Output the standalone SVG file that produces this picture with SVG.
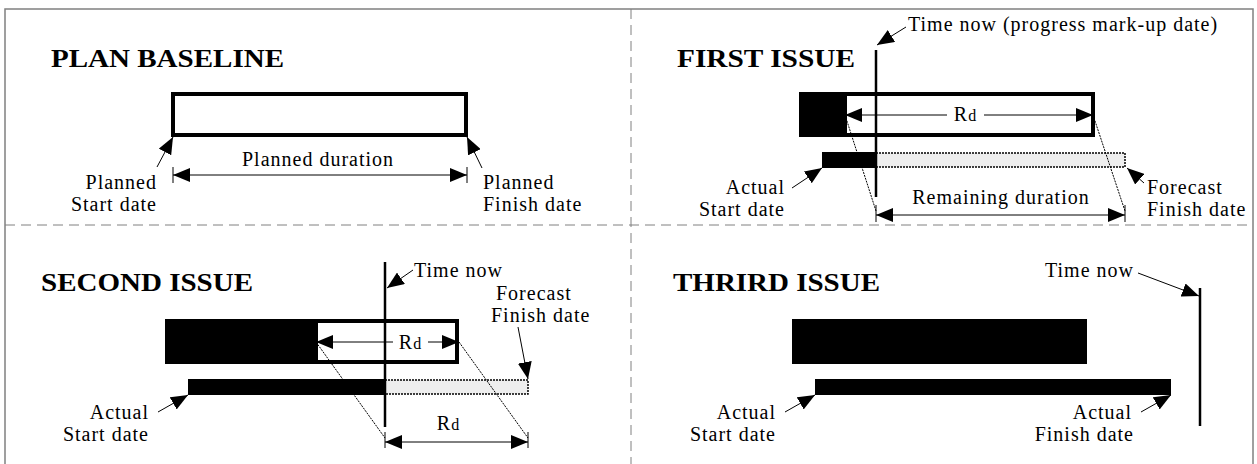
<svg xmlns="http://www.w3.org/2000/svg" width="1257" height="464" viewBox="0 0 1257 464">
  <style>
    .title { font-family: "Liberation Serif", "Times New Roman", serif; font-weight: bold; font-size: 26px; fill: #000; }
    .lbl { font-family: "Liberation Serif", "Times New Roman", serif; font-size: 20px; letter-spacing: 1px; fill: #000; }
    .sub { font-size: 16px; letter-spacing: 0; }
    .frame { fill: none; stroke: #808080; stroke-width: 1.5; }
    .divider { fill: none; stroke: #808080; stroke-width: 1; stroke-dasharray: 10 6; }
    .plan { fill: #fff; stroke: #000; stroke-width: 4; }
    .solid { fill: #000; stroke: none; }
    .forecast { fill: #eeeeee; stroke: #000; stroke-width: 1.5; stroke-dasharray: 2 1; }
    .now { stroke: #000; stroke-width: 2.5; fill: none; }
    .dim { stroke: #000; stroke-width: 1; fill: none; marker-start: url(#ahs); marker-end: url(#ah); }
    .half-l { stroke: #000; stroke-width: 1; fill: none; marker-start: url(#ahs); }
    .half-r { stroke: #000; stroke-width: 1; fill: none; marker-end: url(#ah); }
    .lead { stroke: #000; stroke-width: 1; fill: none; marker-end: url(#ah); }
    .tick { stroke: #000; stroke-width: 1; fill: none; }
    .proj { stroke: #000; stroke-width: 1; fill: none; stroke-dasharray: 2 1; }
  </style>
  <defs>
    <marker id="ah" markerUnits="userSpaceOnUse" markerWidth="18" markerHeight="14" refX="17" refY="7" orient="auto">
      <path d="M0,0 L17,7 L0,14 z" fill="#000"/>
    </marker>
    <marker id="ahs" markerUnits="userSpaceOnUse" markerWidth="18" markerHeight="14" refX="17" refY="7" orient="auto-start-reverse">
      <path d="M0,0 L17,7 L0,14 z" fill="#000"/>
    </marker>
  </defs>

  <rect width="1257" height="464" fill="#fff"/>

  <!-- frame and quadrant dividers -->
  <g id="frame">
    <rect class="frame" x="5" y="9" width="1248" height="470"/>
    <line class="divider" x1="5" y1="225" x2="1253" y2="225"/>
    <line class="divider" x1="631" y1="9" x2="631" y2="464"/>
  </g>

  <!-- Plan baseline -->
  <g id="plan-baseline">
    <text class="title" x="51" y="67" textLength="233" lengthAdjust="spacingAndGlyphs">PLAN BASELINE</text>
    <rect class="plan" x="173" y="94" width="293" height="41"/>
    <text class="lbl" x="318" y="166" text-anchor="middle">Planned duration</text>
    <text class="lbl" x="157" y="189" text-anchor="end">Planned</text>
    <text class="lbl" x="157" y="211" text-anchor="end">Start date</text>
    <text class="lbl" x="483" y="189">Planned</text>
    <text class="lbl" x="483" y="211">Finish date</text>
  </g>

  <!-- First issue -->
  <g id="first-issue">
    <text class="title" x="677" y="67" textLength="178" lengthAdjust="spacingAndGlyphs">FIRST ISSUE</text>
    <rect class="solid" x="799" y="92" width="47" height="45"/>
    <rect class="plan" x="845" y="94" width="248" height="41"/>
    <rect class="forecast" x="876" y="153" width="249" height="14"/>
    <rect class="solid" x="822" y="152" width="54" height="16"/>
    <line class="now" x1="876" y1="50" x2="876" y2="197"/>
    <text class="lbl" x="965" y="121" text-anchor="middle">R<tspan class="sub">d</tspan></text>
    <text class="lbl" x="908" y="31">Time now (progress mark-up date)</text>
    <text class="lbl" x="1001" y="204" text-anchor="middle">Remaining duration</text>
    <text class="lbl" x="785" y="194" text-anchor="end">Actual</text>
    <text class="lbl" x="785" y="216" text-anchor="end">Start date</text>
    <text class="lbl" x="1147" y="194">Forecast</text>
    <text class="lbl" x="1147" y="216">Finish date</text>
  </g>

  <!-- Second issue -->
  <g id="second-issue">
    <text class="title" x="41" y="291" textLength="212" lengthAdjust="spacingAndGlyphs">SECOND ISSUE</text>
    <rect class="solid" x="165" y="319" width="152" height="45"/>
    <rect class="plan" x="316" y="321" width="141" height="41"/>
    <rect class="forecast" x="385" y="380" width="143" height="14"/>
    <rect class="solid" x="188" y="379" width="197" height="16"/>
    <line class="now" x1="385" y1="262" x2="385" y2="427"/>
    <text class="lbl" x="410" y="349" text-anchor="middle">R<tspan class="sub">d</tspan></text>
    <text class="lbl" x="448" y="430" text-anchor="middle">R<tspan class="sub">d</tspan></text>
    <text class="lbl" x="414" y="277">Time now</text>
    <text class="lbl" x="496" y="300">Forecast</text>
    <text class="lbl" x="491" y="322">Finish date</text>
    <text class="lbl" x="149" y="419" text-anchor="end">Actual</text>
    <text class="lbl" x="149" y="441" text-anchor="end">Start date</text>
  </g>

  <!-- Third issue -->
  <g id="third-issue">
    <text class="title" x="673" y="291" textLength="207" lengthAdjust="spacingAndGlyphs">THRIRD ISSUE</text>
    <rect class="solid" x="792" y="319" width="295" height="45"/>
    <rect class="solid" x="815" y="379" width="356" height="16"/>
    <line class="now" x1="1200" y1="288" x2="1200" y2="426"/>
    <text class="lbl" x="1045" y="277">Time now</text>
    <text class="lbl" x="776" y="419" text-anchor="end">Actual</text>
    <text class="lbl" x="776" y="441" text-anchor="end">Start date</text>
    <text class="lbl" x="1132" y="419" text-anchor="end">Actual</text>
    <text class="lbl" x="1134" y="441" text-anchor="end">Finish date</text>
  </g>

  <!-- dimension lines, leaders and projection lines -->
  <g id="connectors">
    <!-- plan baseline -->
    <line class="tick" x1="173" y1="167" x2="173" y2="183"/>
    <line class="tick" x1="467" y1="167" x2="467" y2="183"/>
    <line class="dim" x1="173" y1="175" x2="467" y2="175"/>
    <line class="lead" x1="157" y1="167" x2="173" y2="137"/>
    <line class="lead" x1="482" y1="168" x2="467" y2="137"/>

    <!-- first issue -->
    <line class="half-l" x1="845" y1="115" x2="947" y2="115"/>
    <line class="half-r" x1="984" y1="115" x2="1093" y2="115"/>
    <line class="proj" x1="845" y1="115" x2="876" y2="211"/>
    <line class="proj" x1="1093" y1="115" x2="1125" y2="211"/>
    <line class="tick" x1="876" y1="205" x2="876" y2="222"/>
    <line class="tick" x1="1125" y1="205" x2="1125" y2="222"/>
    <line class="dim" x1="876" y1="215" x2="1125" y2="215"/>
    <line class="lead" x1="906" y1="27" x2="877" y2="45"/>
    <line class="lead" x1="792" y1="188" x2="822" y2="168"/>
    <line class="lead" x1="1144" y1="183" x2="1127" y2="168"/>

    <!-- second issue -->
    <line class="half-l" x1="316" y1="342" x2="393" y2="342"/>
    <line class="half-r" x1="428" y1="342" x2="459" y2="342"/>
    <line class="proj" x1="316" y1="342" x2="385" y2="438"/>
    <line class="proj" x1="459" y1="342" x2="528" y2="438"/>
    <line class="tick" x1="385" y1="432" x2="385" y2="448"/>
    <line class="tick" x1="528" y1="432" x2="528" y2="448"/>
    <line class="dim" x1="385" y1="442" x2="528" y2="442"/>
    <line class="lead" x1="413" y1="270" x2="387" y2="288"/>
    <line class="lead" x1="518" y1="327" x2="528" y2="379"/>
    <line class="lead" x1="158" y1="412" x2="188" y2="395"/>

    <!-- third issue -->
    <line class="lead" x1="1138" y1="273" x2="1199" y2="296"/>
    <line class="lead" x1="785" y1="412" x2="815" y2="395"/>
    <line class="lead" x1="1141" y1="412" x2="1171" y2="395"/>
  </g>
</svg>
